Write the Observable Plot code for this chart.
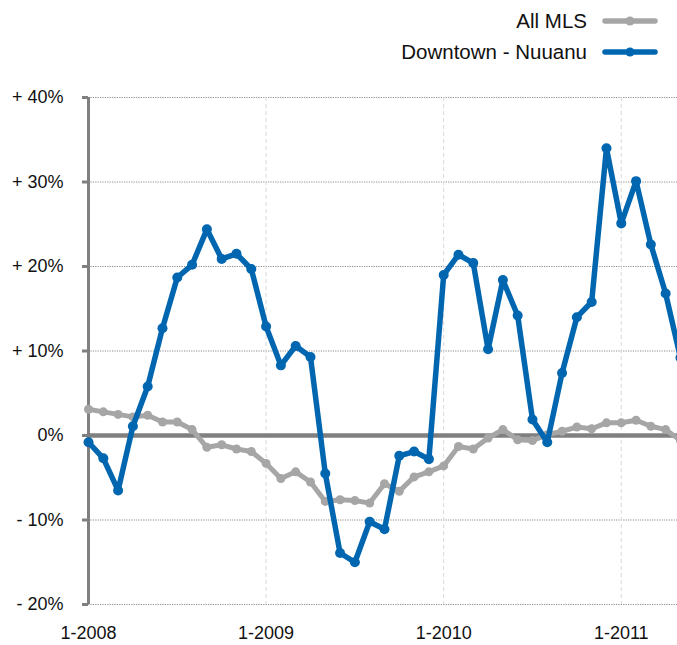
<!DOCTYPE html>
<html>
<head>
<meta charset="utf-8">
<script src="https://cdn.jsdelivr.net/npm/d3@7"></script>
<script src="https://cdn.jsdelivr.net/npm/@observablehq/plot@0.6"></script>
<style>
  html, body { margin: 0; padding: 0; background: #fff; overflow: hidden; }
  body { width: 677px; height: 645px; font-family: "Liberation Sans", Arial, sans-serif; }
  #legend { position: relative; height: 75px; }
  .row { position: absolute; right: 19px; height: 30px; display: flex; align-items: center; font-size: 20.5px; color: #111; }
  .row svg { margin-left: 15px; }
  #chart g[aria-label="y-axis tick"] path { stroke: #808080; stroke-width: 3px; }
</style>
</head>
<body>
<div id="legend"></div>
<div id="chart"></div>
<script>
// Month labels (Jan 2008 – May 2011)
const months = [
  "2008-01","2008-02","2008-03","2008-04","2008-05","2008-06","2008-07","2008-08","2008-09","2008-10","2008-11","2008-12",
  "2009-01","2009-02","2009-03","2009-04","2009-05","2009-06","2009-07","2009-08","2009-09","2009-10","2009-11","2009-12",
  "2010-01","2010-02","2010-03","2010-04","2010-05","2010-06","2010-07","2010-08","2010-09","2010-10","2010-11","2010-12",
  "2011-01","2011-02","2011-03","2011-04","2011-05"
];
// Downtown - Nuuanu (% change)
const downtown = [
  -0.8, -2.7, -6.5, 1.1, 5.8, 12.7, 18.7, 20.2, 24.4, 20.9, 21.5, 19.7,
  12.9, 8.3, 10.6, 9.3, -4.5, -13.9, -15.0, -10.2, -11.1, -2.4, -1.9, -2.8,
  19.0, 21.4, 20.4, 10.2, 18.4, 14.2, 1.9, -0.8, 7.4, 14.0, 15.8, 34.0,
  25.1, 30.1, 22.6, 16.8, 9.2
];
// All MLS (% change)
const allMLS = [
  3.1, 2.8, 2.5, 2.2, 2.4, 1.6, 1.6, 0.7, -1.4, -1.1, -1.6, -1.9,
  -3.3, -5.1, -4.3, -5.5, -7.8, -7.6, -7.7, -8.0, -5.7, -6.6, -4.9, -4.3,
  -3.6, -1.3, -1.6, -0.3, 0.7, -0.5, -0.6, 0.1, 0.5, 1.0, 0.8, 1.5,
  1.5, 1.8, 1.1, 0.7, -0.6
];
const yTicks = [-20, -10, 0, 10, 20, 30, 40];
const yGrid = [-20, -10, 10, 20, 30, 40];
const xTickIdx = [0, 12, 24, 36];
const xTickLabels = ["1-2008", "1-2009", "1-2010", "1-2011"];
const seriesNames = ["All MLS", "Downtown - Nuuanu"];
const seriesColors = ["#a6a6a6", "#0066b0"];

const rows = months.map((m, i) => ({i, m, down: downtown[i], all: allMLS[i]}));

// Legend
const legend = document.getElementById("legend");
seriesNames.forEach((name, k) => {
  const row = document.createElement("div");
  row.className = "row";
  row.style.top = (k === 0 ? 6 : 37) + "px";
  row.innerHTML = `<span>${name}</span><svg width="56" height="12"><line x1="3" y1="6" x2="53" y2="6" stroke="${seriesColors[k]}" stroke-width="5.5" stroke-linecap="round"/><circle cx="28" cy="6" r="4.5" fill="${seriesColors[k]}"/></svg>`;
  legend.appendChild(row);
});

const fmtY = d => d > 0 ? `+ ${d}%` : d < 0 ? `- ${-d}%` : "0%";

const chart = Plot.plot({
  width: 677,
  height: 570,
  marginLeft: 88,
  marginRight: 0,
  marginTop: 22,
  marginBottom: 41,
  style: {fontFamily: "Liberation Sans, Arial, sans-serif", fontSize: "18px", color: "#111", background: "#fff"},
  x: {domain: [0, 39.8], ticks: xTickIdx, tickFormat: i => xTickLabels[xTickIdx.indexOf(i)], tickSize: 0, tickPadding: 22, label: null},
  y: {domain: [-20, 40], ticks: yTicks, tickFormat: fmtY, tickSize: 6, tickPadding: 19, label: null},
  marks: [
    Plot.ruleY(yGrid, {stroke: "#8c8c8c", strokeWidth: 1, strokeDasharray: "1.2,1.2"}),
    Plot.ruleX(xTickIdx.slice(1), {stroke: "#d9d9d9", strokeWidth: 1, strokeDasharray: "4,3"}),
    Plot.ruleY([0], {stroke: "#808080", strokeWidth: 4.5}),
    Plot.ruleX([0], {stroke: "#808080", strokeWidth: 3}),
    Plot.line(rows, {x: "i", y: "all", stroke: seriesColors[0], strokeWidth: 5, strokeLinejoin: "round"}),
    Plot.dot(rows, {x: "i", y: "all", fill: seriesColors[0], r: 4.5}),
    Plot.line(rows, {x: "i", y: "down", stroke: seriesColors[1], strokeWidth: 5.5, strokeLinejoin: "round"}),
    Plot.dot(rows, {x: "i", y: "down", fill: seriesColors[1], r: 5})
  ]
});
document.getElementById("chart").appendChild(chart);
</script>
</body>
</html>
